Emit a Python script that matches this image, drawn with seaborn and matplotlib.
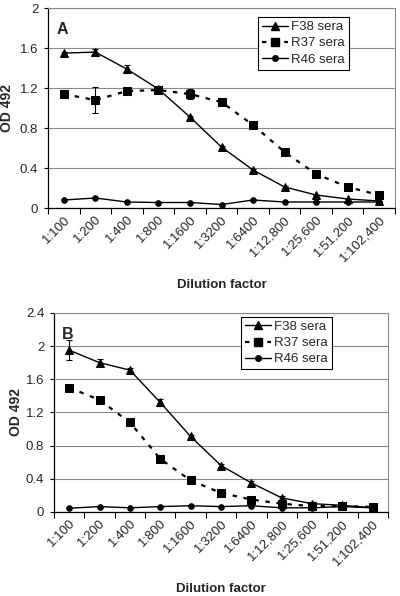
import numpy as np
import pandas as pd
import seaborn as sns
import matplotlib.pyplot as plt
from matplotlib.lines import Line2D

dilutions = ['1:100', '1:200', '1:400', '1:800', '1:1600', '1:3200', '1:6400',
             '1:12,800', '1:25,600', '1:51,200', '1:102,400']

# Panel A
a_f38 = [1.55, 1.56, 1.39, 1.19, 0.91, 0.61, 0.38, 0.21, 0.13, 0.09, 0.07]
a_r37 = [1.14, 1.08, 1.17, 1.18, 1.14, 1.06, 0.83, 0.56, 0.34, 0.21, 0.13]
a_r46 = [0.08, 0.10, 0.06, 0.055, 0.055, 0.035, 0.08, 0.06, 0.06, 0.06, 0.06]
a_f38_err = [0.01, 0.03, 0.04, 0.02, 0.01, 0.01, 0.01, 0.01, 0.0, 0.0, 0.0]
a_r37_err = [0.04, 0.13, 0.02, 0.02, 0.05, 0.01, 0.02, 0.0, 0.0, 0.0, 0.0]

# Panel B
b_f38 = [1.95, 1.80, 1.71, 1.32, 0.91, 0.56, 0.35, 0.17, 0.10, 0.08, 0.05]
b_r37 = [1.50, 1.35, 1.08, 0.64, 0.38, 0.23, 0.15, 0.10, 0.07, 0.07, 0.06]
b_r46 = [0.045, 0.065, 0.05, 0.065, 0.075, 0.065, 0.075, 0.05, 0.05, 0.065, 0.05]
b_f38_err = [0.12, 0.04, 0.02, 0.04, 0.02, 0.02, 0.02, 0.02, 0.01, 0.01, 0.0]
b_r37_err = [0.0] * 11

series_names = ['F38 sera', 'R37 sera', 'R46 sera']
markers = {'F38 sera': '^', 'R37 sera': 's', 'R46 sera': 'o'}
marker_sizes = {'F38 sera': 6, 'R37 sera': 6, 'R46 sera': 4}
line_styles = {'F38 sera': '-', 'R37 sera': (0, (2, 3)), 'R46 sera': '-'}
line_widths = {'F38 sera': 1.0, 'R37 sera': 1.6, 'R46 sera': 1.0}

sns.set_theme(style='white')
plt.rcParams['font.family'] = ['Liberation Sans', 'DejaVu Sans']

fig = plt.figure(figsize=(4.0, 5.96), dpi=100)
ax_a = fig.add_axes([0.12, 0.651, 0.8675, 0.3354])
ax_b = fig.add_axes([0.135, 0.141, 0.835, 0.334])


def draw_panel(ax, vals, errs, ymax, letter, legend_pos, ylab_x):
    x = np.arange(len(dilutions))
    for name, v in zip(series_names, vals):
        df = pd.DataFrame({'x': x, 'y': v})
        sns.lineplot(data=df, x='x', y='y', ax=ax, color='black',
                     linestyle=line_styles[name], linewidth=line_widths[name],
                     marker=markers[name], markersize=marker_sizes[name],
                     markeredgecolor='black', zorder=3)
    for v, e in zip(vals[:2], errs):
        ax.errorbar(x, v, yerr=e, fmt='none', ecolor='black', elinewidth=0.8,
                    capsize=2, capthick=0.8, zorder=2)

    ax.set_xlim(-0.5, len(dilutions) - 0.5)
    ax.set_ylim(0, ymax)
    ax.set_yticks(np.arange(0, ymax + 0.01, 0.4))
    ax.set_yticklabels([f'{t:g}' for t in np.arange(0, ymax + 0.01, 0.4)], fontsize=9.5)
    ax.yaxis.grid(True, color='#8a8a8a', linewidth=0.8)
    ax.set_axisbelow(True)

    ax.set_xticks(x)
    ax.set_xticklabels(dilutions, rotation=45, ha='right', rotation_mode='anchor',
                       fontsize=9.5)
    ax.set_xticks(np.arange(-0.5, len(dilutions)), minor=True)
    ax.tick_params(axis='x', which='major', length=0, pad=4)
    ax.tick_params(axis='x', which='minor', length=4, width=0.8, color='black',
                   bottom=True, direction='out')
    ax.tick_params(axis='y', length=3, width=0.8, color='black', left=True,
                   direction='out', pad=4)

    for s in ['left', 'bottom']:
        ax.spines[s].set_color('black')
        ax.spines[s].set_linewidth(0.9)
    for s in ['top', 'right']:
        ax.spines[s].set_color('#8a8a8a')
        ax.spines[s].set_linewidth(0.8)

    ax.set_xlabel('Dilution factor', fontsize=9.5, fontweight='bold', labelpad=11)
    ax.set_ylabel('OD 492', fontsize=10, fontweight='bold')
    ax.yaxis.set_label_coords(ylab_x, 0.5)
    ax.text(0.025, 0.93, letter, transform=ax.transAxes, fontsize=11.5,
            fontweight='bold', va='top', ha='left')

    handles = [Line2D([], [], color='black', linestyle=line_styles[n],
                      linewidth=line_widths[n], marker=markers[n],
                      markersize=marker_sizes[n]) for n in series_names]
    leg = ax.legend(handles, series_names, loc='upper left',
                    bbox_to_anchor=legend_pos, fontsize=9.5, frameon=True,
                    fancybox=False, edgecolor='black', framealpha=1,
                    handlelength=2.0, handletextpad=0.2, borderpad=0.3,
                    labelspacing=0.3, borderaxespad=0)
    leg.get_frame().set_linewidth(0.8)


draw_panel(ax_a, [a_f38, a_r37, a_r46], [a_f38_err, a_r37_err], 2.0, 'A',
           (0.605, 0.955), -0.097)
draw_panel(ax_b, [b_f38, b_r37, b_r46], [b_f38_err, b_r37_err], 2.4, 'B',
           (0.56, 0.98), -0.094)

fig.savefig('out.png', dpi=100)
